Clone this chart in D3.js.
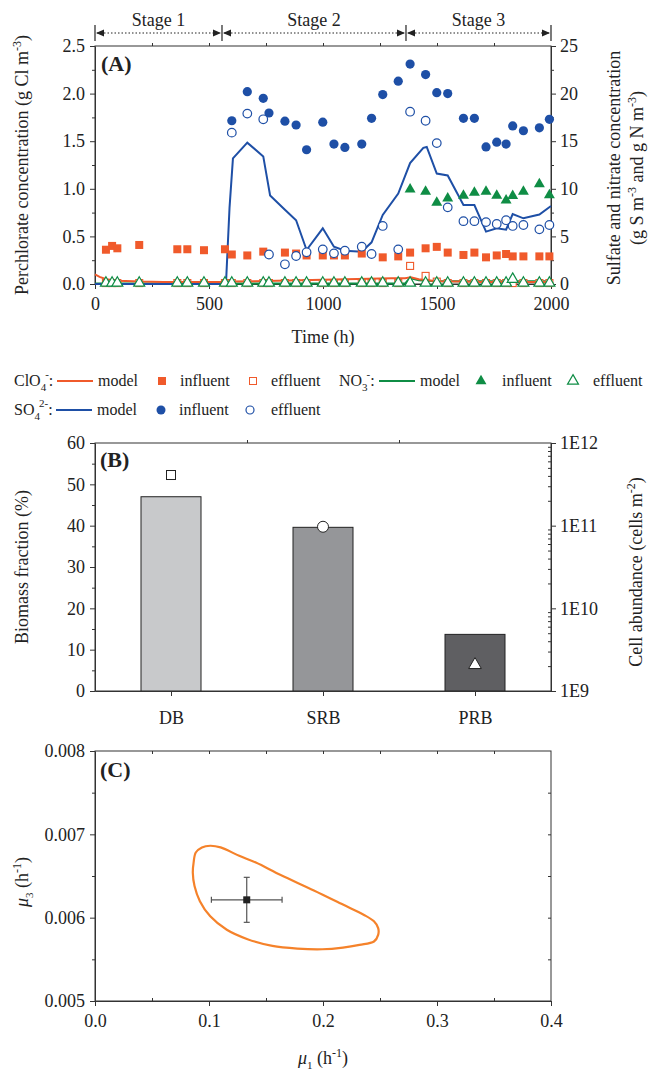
<!DOCTYPE html>
<html>
<head>
<meta charset="utf-8">
<script src="https://cdn.jsdelivr.net/npm/d3@7"></script>
<style>
  body { margin: 0; background: #fff; }
  svg, svg text { font-family: "Liberation Serif", "DejaVu Serif", "Noto Serif", "Times New Roman", serif; }
  .axis path, .axis line { stroke: #333; }
  .axis text { font-size: 18px; fill: #222; }
  .title { font-size: 18px; fill: #222; }
  .legend { font-size: 16px; fill: #222; }
</style>
</head>
<body>
<svg id="fig" width="649" height="1071"></svg>
<script>
// ---- panel A data (time in h) ----
const stageNames = ["Stage 1", "Stage 2", "Stage 3"];
const stageBounds = [0, 557, 1364, 2000];

const clo4InfT = [48, 75, 98, 194, 361, 405, 478, 570, 600, 668, 738, 833, 882, 928, 999, 1048, 1096, 1170, 1262, 1330, 1382, 1450, 1499, 1547, 1616, 1664, 1715, 1762, 1803, 1832, 1879, 1949, 1993];
const clo4Inf = [0.36, 0.40, 0.375, 0.41, 0.365, 0.365, 0.355, 0.365, 0.31, 0.30, 0.34, 0.33, 0.32, 0.30, 0.30, 0.30, 0.30, 0.32, 0.28, 0.29, 0.33, 0.375, 0.39, 0.33, 0.305, 0.33, 0.28, 0.30, 0.315, 0.29, 0.29, 0.29, 0.29];

const effT = [48, 75, 98, 194, 361, 405, 478, 570, 600, 668, 738, 763, 833, 882, 928, 999, 1048, 1096, 1170, 1213, 1262, 1330, 1382, 1450, 1499, 1547, 1616, 1664, 1715, 1762, 1803, 1832, 1879, 1949, 1993];
const clo4Eff = [0.01, 0.01, 0.01, 0.01, 0.01, 0.01, 0.01, 0.01, 0.01, 0.01, 0.01, 0.01, 0.01, 0.01, 0.01, 0.01, 0.01, 0.01, 0.01, 0.01, 0.01, 0.01, 0.19, 0.085, 0.025, 0.01, 0.01, 0.01, 0.01, 0.01, 0.01, 0.01, 0.01, 0.01, 0.01];
const no3Eff = [0.1, 0.1, 0.1, 0.1, 0.1, 0.1, 0.1, 0.1, 0.1, 0.1, 0.1, 0.1, 0.1, 0.1, 0.1, 0.1, 0.1, 0.1, 0.1, 0.1, 0.1, 0.1, 0.1, 0.1, 0.1, 0.1, 0.1, 0.1, 0.1, 0.1, 0.1, 0.5, 0.1, 0.1, 0.1];

const clo4ModelT = [0, 20, 50, 100, 200, 300, 400, 500, 560, 600, 700, 800, 900, 1000, 1100, 1200, 1300, 1360, 1385, 1420, 1500, 1600, 1700, 1800, 1900, 2000];
const clo4Model = [0.10, 0.075, 0.05, 0.035, 0.025, 0.022, 0.02, 0.02, 0.02, 0.025, 0.03, 0.035, 0.04, 0.045, 0.05, 0.055, 0.06, 0.06, 0.07, 0.05, 0.03, 0.025, 0.022, 0.02, 0.02, 0.02];

const so4T = [600, 668, 738, 763, 833, 882, 928, 999, 1048, 1096, 1170, 1213, 1262, 1330, 1382, 1450, 1499, 1547, 1616, 1664, 1715, 1762, 1803, 1832, 1879, 1949, 1993];
const so4Inf = [17.15, 20.2, 19.5, 17.96, 17.1, 16.7, 14.1, 17.0, 14.7, 14.35, 14.7, 17.4, 19.9, 21.3, 23.1, 22.0, 20.1, 20.0, 17.4, 17.4, 14.4, 14.9, 14.7, 16.6, 16.1, 16.4, 17.3];
const so4Eff = [15.9, 17.9, 17.3, 3.1, 2.07, 2.94, 3.33, 3.64, 3.22, 3.5, 3.92, 3.15, 6.1, 3.64, 18.1, 17.15, 14.8, 8.05, 6.6, 6.6, 6.5, 6.3, 6.7, 6.1, 6.2, 5.74, 6.2];

const so4ModelT = [0, 560, 575, 590, 605, 668, 738, 768, 833, 882, 928, 999, 1048, 1096, 1170, 1213, 1262, 1330, 1382, 1440, 1455, 1499, 1547, 1616, 1664, 1715, 1762, 1803, 1832, 1879, 1949, 2000];
const so4Model = [0, 0, 0.3, 8, 13.2, 14.85, 13.4, 9.3, 7.8, 6.7, 3.57, 5.85, 3.92, 3.5, 3.4, 4.38, 7.25, 9.5, 12.7, 14.3, 14.4, 11.6, 11.4, 8.3, 8.3, 5.5, 5.85, 5.7, 7.35, 6.9, 7.3, 8.2];

const no3InfT = [1382, 1450, 1499, 1547, 1616, 1664, 1715, 1762, 1803, 1832, 1879, 1949, 1993];
const no3Inf = [9.95, 9.7, 8.55, 9.0, 9.28, 9.6, 9.7, 9.28, 8.8, 9.25, 9.7, 10.5, 9.35];

const no3ModelT = [0, 1360, 1372, 1385, 1420, 1500, 1600, 1800, 2000];
const no3Model = [0.05, 0.05, 0.4, 0.6, 0.4, 0.3, 0.28, 0.28, 0.3];

// ---- panel B data ----
const groups = ["DB", "SRB", "PRB"];
const biomassPct = [47.0, 39.6, 13.7];
const cellAbundance = [4.1e11, 9.7e10, 2.07e9];
const barColors = ["#c8c9cb", "#959699", "#5f5f62"];

// ---- panel C data ----
const mu1Contour = [0.0865, 0.0884, 0.0938, 0.1011, 0.1102, 0.1265, 0.1411, 0.1629, 0.192, 0.2175, 0.2356, 0.2447, 0.2484, 0.2484, 0.2447, 0.232, 0.2175, 0.1993, 0.1775, 0.1556, 0.1338, 0.1156, 0.1011, 0.092, 0.0873, 0.0858];
const mu3Contour = [0.006661, 0.006782, 0.006843, 0.006863, 0.006843, 0.006742, 0.006661, 0.006512, 0.006327, 0.006157, 0.006036, 0.005956, 0.005875, 0.005794, 0.005714, 0.005673, 0.005641, 0.005621, 0.005629, 0.005661, 0.005742, 0.005855, 0.006016, 0.006198, 0.006379, 0.00654];
const mu1Est = 0.1331, mu1Err = 0.031;
const mu3Est = 0.006214, mu3Err = 0.00027;

const red = "#f05a2b", blue = "#1e4fa6", green = "#0f8d45", orange = "#f5822a";
const serif = '"Liberation Serif", "DejaVu Serif", "Noto Serif", "Times New Roman", serif';

const svg = d3.select("#fig").attr("font-family", serif);
const zip = (ts, vs) => ts.map((t, i) => [t, vs[i]]);

function drawAxis(axis, tx, ty, minor) {
  const g = svg.append("g").attr("class", "axis").attr("transform", `translate(${tx},${ty})`).call(axis);
  g.attr("font-family", serif).attr("font-size", 18);
  if (minor) g.select(".domain").remove();
  return g;
}

function frame(x0, x1, y0, y1) {
  svg.append("rect").attr("x", x0).attr("y", y0).attr("width", x1 - x0).attr("height", y1 - y0)
    .attr("fill", "none").attr("stroke", "#333");
}

// ================= Panel A =================
const xA = d3.scaleLinear().domain([0, 2000]).range([95, 551]);
const yA = d3.scaleLinear().domain([0, 2.5]).range([284, 46]);
const yA2 = d3.scaleLinear().domain([0, 25]).range([284, 46]);

frame(95, 551, 46, 284);
drawAxis(d3.axisLeft(yA).tickValues([0, 0.5, 1, 1.5, 2, 2.5]).tickFormat(d3.format(".1f")).tickSize(5).tickPadding(5).tickSizeOuter(0), 95, 0);
drawAxis(d3.axisLeft(yA).tickValues([0.25, 0.75, 1.25, 1.75, 2.25]).tickFormat("").tickSize(3), 95, 0, true);
drawAxis(d3.axisRight(yA2).tickValues([0, 5, 10, 15, 20, 25]).tickFormat(d3.format("d")).tickSize(5).tickPadding(4).tickSizeOuter(0), 551, 0);
drawAxis(d3.axisRight(yA2).tickValues([2.5, 7.5, 12.5, 17.5, 22.5]).tickFormat("").tickSize(3), 551, 0, true);
drawAxis(d3.axisBottom(xA).tickValues([0, 500, 1000, 1500, 2000]).tickFormat(d3.format("d")).tickSize(5).tickPadding(8).tickSizeOuter(0), 0, 284);
drawAxis(d3.axisBottom(xA).tickValues([250, 750, 1250, 1750]).tickFormat("").tickSize(3), 0, 284, true);
drawAxis(d3.axisTop(xA).tickValues([250, 500, 750, 1000, 1250, 1500, 1750]).tickFormat("").tickSize(3), 0, 46, true);

// stage brackets
const stages = svg.append("g");
stageBounds.forEach((b) => {
  stages.append("line").attr("x1", xA(b)).attr("x2", xA(b)).attr("y1", 25).attr("y2", 41)
    .attr("stroke", "#222").attr("stroke-width", 1.2);
});
stageNames.forEach((name, i) => {
  const a = xA(stageBounds[i]), b = xA(stageBounds[i + 1]);
  stages.append("line").attr("x1", a + 2).attr("x2", b - 2).attr("y1", 33).attr("y2", 33)
    .attr("stroke", "#222").attr("stroke-dasharray", "1.5,2");
  stages.append("path").attr("d", `M${a + 1},33L${a + 9},29.5L${a + 9},36.5Z`).attr("fill", "#222");
  stages.append("path").attr("d", `M${b - 1},33L${b - 9},29.5L${b - 9},36.5Z`).attr("fill", "#222");
  stages.append("text").attr("x", (a + b) / 2).attr("y", 26).attr("text-anchor", "middle")
    .attr("class", "title").text(name);
});

// model lines
const lineA = d3.line().x((d) => xA(d[0])).y((d) => yA(d[1]));
const lineA2 = d3.line().x((d) => xA(d[0])).y((d) => yA2(d[1]));
svg.append("path").datum(zip(no3ModelT, no3Model)).attr("d", lineA2).attr("fill", "none").attr("stroke", green).attr("stroke-width", 2);
svg.append("path").datum(zip(clo4ModelT, clo4Model)).attr("d", lineA).attr("fill", "none").attr("stroke", red).attr("stroke-width", 2);
svg.append("path").datum(zip(so4ModelT, so4Model)).attr("d", lineA2).attr("fill", "none").attr("stroke", blue).attr("stroke-width", 2);

// markers
const tri = d3.symbol(d3.symbolTriangle, 52);
const gA = svg.append("g");
gA.selectAll(".clo4inf").data(zip(clo4InfT, clo4Inf)).join("rect")
  .attr("x", (d) => xA(d[0]) - 4).attr("y", (d) => yA(d[1]) - 4).attr("width", 8).attr("height", 8).attr("fill", red);
gA.selectAll(".so4inf").data(zip(so4T, so4Inf)).join("circle")
  .attr("cx", (d) => xA(d[0])).attr("cy", (d) => yA2(d[1])).attr("r", 4.6).attr("fill", blue);
gA.selectAll(".no3inf").data(zip(no3InfT, no3Inf)).join("path")
  .attr("d", tri).attr("transform", (d) => `translate(${xA(d[0])},${yA2(d[1])})`).attr("fill", green);
gA.selectAll(".so4eff").data(zip(so4T, so4Eff)).join("circle")
  .attr("cx", (d) => xA(d[0])).attr("cy", (d) => yA2(d[1])).attr("r", 4.3)
  .attr("fill", "#fff").attr("stroke", blue).attr("stroke-width", 1.2);
gA.selectAll(".clo4eff").data(zip(effT, clo4Eff)).join("rect")
  .attr("x", (d) => xA(d[0]) - 3.5).attr("y", (d) => yA(d[1]) - 3.5).attr("width", 7).attr("height", 7)
  .attr("fill", "#fff").attr("stroke", red).attr("stroke-width", 1.1);
gA.selectAll(".no3eff").data(zip(effT, no3Eff)).join("path")
  .attr("d", tri).attr("transform", (d) => `translate(${xA(d[0])},${yA2(d[1])})`)
  .attr("fill", "#fff").attr("stroke", green).attr("stroke-width", 1.2);

svg.append("text").attr("x", 101).attr("y", 71).attr("font-size", 22).attr("font-weight", "bold").attr("fill", "#222").text("(A)");

// axis titles A
const tA = svg.append("text").attr("class", "title").attr("text-anchor", "middle")
  .attr("transform", "translate(28,165) rotate(-90)");
tA.append("tspan").text("Perchlorate concentration (g Cl m");
tA.append("tspan").attr("dy", -7).attr("font-size", 12).text("-3");
tA.append("tspan").attr("dy", 7).text(")");

svg.append("text").attr("class", "title").attr("text-anchor", "middle")
  .attr("transform", "translate(620,168) rotate(-90)").text("Sulfate and nitrate concentration");
const tA2 = svg.append("text").attr("class", "title").attr("text-anchor", "middle")
  .attr("transform", "translate(643,168) rotate(-90)");
tA2.append("tspan").text("(g S m");
tA2.append("tspan").attr("dy", -7).attr("font-size", 12).text("-3");
tA2.append("tspan").attr("dy", 7).text(" and g N m");
tA2.append("tspan").attr("dy", -7).attr("font-size", 12).text("-3");
tA2.append("tspan").attr("dy", 7).text(")");

svg.append("text").attr("class", "title").attr("x", 323).attr("y", 343).attr("text-anchor", "middle").text("Time (h)");

// ================= Legend =================
const leg = svg.append("g").attr("class", "legend");
function ionLabel(x, y, base, sub, sup) {
  const t = leg.append("text").attr("x", x).attr("y", y);
  t.append("tspan").text(base);
  t.append("tspan").attr("dy", 5).attr("font-size", 11).text(sub);
  t.append("tspan").attr("dx", -1).attr("dy", -13).attr("font-size", 11).text(sup);
  t.append("tspan").attr("dy", 8).text(":");
}
function legLine(x1, x2, y, c) {
  leg.append("line").attr("x1", x1).attr("x2", x2).attr("y1", y).attr("y2", y).attr("stroke", c).attr("stroke-width", 2.2);
}
function legText(x, y, s) { leg.append("text").attr("x", x).attr("y", y).text(s); }

ionLabel(14, 386, "ClO", "4", "-");
legLine(57, 93, 381, red); legText(98, 386, "model");
leg.append("rect").attr("x", 158).attr("y", 377).attr("width", 8).attr("height", 8).attr("fill", red);
legText(180, 386, "influent");
leg.append("rect").attr("x", 249.5).attr("y", 377.5).attr("width", 7).attr("height", 7).attr("fill", "#fff").attr("stroke", red);
legText(271, 386, "effluent");
ionLabel(339, 386, "NO", "3", "-");
legLine(379, 415, 381, green); legText(420, 386, "model");
leg.append("path").attr("d", tri).attr("transform", "translate(481,381)").attr("fill", green);
legText(502, 386, "influent");
leg.append("path").attr("d", tri).attr("transform", "translate(573,381)").attr("fill", "#fff").attr("stroke", green).attr("stroke-width", 1.2);
legText(593, 386, "effluent");

ionLabel(14, 415, "SO", "4", "2-");
legLine(56, 92, 410, blue); legText(97, 415, "model");
leg.append("circle").attr("cx", 161).attr("cy", 410).attr("r", 4.5).attr("fill", blue);
legText(179, 415, "influent");
leg.append("circle").attr("cx", 250).attr("cy", 410).attr("r", 4).attr("fill", "#fff").attr("stroke", blue).attr("stroke-width", 1.2);
legText(271, 415, "effluent");

// ================= Panel B =================
const xB = d3.scaleLinear().domain([0.5, 3.5]).range([95, 551]);
const yB = d3.scaleLinear().domain([0, 60]).range([691, 443]);
const yB2 = d3.scaleLog().domain([1e9, 1e12]).range([691, 443]);
const barW = 60;

frame(95, 551, 443, 691);
svg.append("g").selectAll("rect").data(groups).join("rect")
  .attr("x", (d, i) => xB(i + 1) - barW / 2).attr("y", (d, i) => yB(biomassPct[i]))
  .attr("width", barW).attr("height", (d, i) => yB(0) - yB(biomassPct[i]))
  .attr("fill", (d, i) => barColors[i]).attr("stroke", "#222").attr("stroke-width", 1);

drawAxis(d3.axisLeft(yB).tickValues([0, 10, 20, 30, 40, 50, 60]).tickSize(5).tickPadding(5).tickSizeOuter(0), 95, 0);
drawAxis(d3.axisLeft(yB).tickValues([5, 15, 25, 35, 45, 55]).tickFormat("").tickSize(3), 95, 0, true);
drawAxis(d3.axisBottom(xB).tickValues([1, 2, 3]).tickFormat((d) => groups[d - 1]).tickSize(5).tickPadding(15).tickSizeOuter(0), 0, 691);
drawAxis(d3.axisBottom(xB).tickValues([1.5, 2.5]).tickFormat("").tickSize(-3), 0, 443, true);
drawAxis(d3.axisRight(yB2).tickValues([1e9, 1e10, 1e11, 1e12]).tickFormat((d) => "1E" + Math.round(Math.log10(d))).tickSize(5).tickPadding(4).tickSizeOuter(0), 551, 0);
const minorLog = [];
[1e9, 1e10, 1e11].forEach((p) => [2, 3, 4, 5, 6, 7, 8, 9].forEach((m) => minorLog.push(p * m)));
drawAxis(d3.axisRight(yB2).tickValues(minorLog).tickFormat("").tickSize(-3), 551, 0, true);

// cell abundance markers
const mB = svg.append("g");
mB.append("rect").attr("x", xB(1) - 4.5).attr("y", yB2(cellAbundance[0]) - 4.5).attr("width", 9).attr("height", 9)
  .attr("fill", "#fff").attr("stroke", "#222");
mB.append("circle").attr("cx", xB(2)).attr("cy", yB2(cellAbundance[1])).attr("r", 5.5)
  .attr("fill", "#fff").attr("stroke", "#222");
mB.append("path").attr("d", d3.symbol(d3.symbolTriangle, 70)).attr("transform", `translate(${xB(3)},${yB2(cellAbundance[2])})`)
  .attr("fill", "#fff").attr("stroke", "#222");

svg.append("text").attr("x", 100).attr("y", 467).attr("font-size", 22).attr("font-weight", "bold").attr("fill", "#222").text("(B)");
svg.append("text").attr("class", "title").attr("text-anchor", "middle")
  .attr("transform", "translate(28,567) rotate(-90)").text("Biomass fraction (%)");
const tB2 = svg.append("text").attr("class", "title").attr("text-anchor", "middle")
  .attr("transform", "translate(642,572) rotate(-90)");
tB2.append("tspan").text("Cell abundance (cells m");
tB2.append("tspan").attr("dy", -7).attr("font-size", 12).text("-2");
tB2.append("tspan").attr("dy", 7).text(")");

// ================= Panel C =================
const xC = d3.scaleLinear().domain([0, 0.4]).range([95, 551]);
const yC = d3.scaleLinear().domain([0.005, 0.008]).range([1001, 751]);

frame(95, 551, 751, 1001);
drawAxis(d3.axisLeft(yC).tickValues([0.005, 0.006, 0.007, 0.008]).tickFormat(d3.format(".3f")).tickSize(5).tickPadding(5).tickSizeOuter(0), 95, 0);
drawAxis(d3.axisLeft(yC).tickValues([0.0055, 0.0065, 0.0075]).tickFormat("").tickSize(3), 95, 0, true);
drawAxis(d3.axisBottom(xC).tickValues([0, 0.1, 0.2, 0.3, 0.4]).tickFormat(d3.format(".1f")).tickSize(5).tickPadding(8).tickSizeOuter(0), 0, 1001);
drawAxis(d3.axisBottom(xC).tickValues([0.05, 0.15, 0.25, 0.35]).tickFormat("").tickSize(-3), 0, 1001, true);
drawAxis(d3.axisRight(yC).tickValues([0.0055, 0.006, 0.0065, 0.007, 0.0075]).tickFormat("").tickSize(-3), 551, 0, true);
drawAxis(d3.axisTop(xC).tickValues([0.05, 0.1, 0.15, 0.2, 0.25, 0.3, 0.35]).tickFormat("").tickSize(-3), 0, 751, true);

svg.append("path").datum(zip(mu1Contour, mu3Contour))
  .attr("d", d3.line().x((d) => xC(d[0])).y((d) => yC(d[1])).curve(d3.curveCatmullRomClosed))
  .attr("fill", "none").attr("stroke", orange).attr("stroke-width", 2.2);

const eb = svg.append("g").attr("stroke", "#555").attr("stroke-width", 1.2);
eb.append("line").attr("x1", xC(mu1Est - mu1Err)).attr("x2", xC(mu1Est + mu1Err)).attr("y1", yC(mu3Est)).attr("y2", yC(mu3Est));
eb.append("line").attr("x1", xC(mu1Est)).attr("x2", xC(mu1Est)).attr("y1", yC(mu3Est - mu3Err)).attr("y2", yC(mu3Est + mu3Err));
[mu1Est - mu1Err, mu1Est + mu1Err].forEach((v) => eb.append("line").attr("x1", xC(v)).attr("x2", xC(v)).attr("y1", yC(mu3Est) - 3).attr("y2", yC(mu3Est) + 3));
[mu3Est - mu3Err, mu3Est + mu3Err].forEach((v) => eb.append("line").attr("x1", xC(mu1Est) - 3).attr("x2", xC(mu1Est) + 3).attr("y1", yC(v)).attr("y2", yC(v)));
svg.append("rect").attr("x", xC(mu1Est) - 3.5).attr("y", yC(mu3Est) - 3.5).attr("width", 7).attr("height", 7).attr("fill", "#222");

svg.append("text").attr("x", 100).attr("y", 777).attr("font-size", 22).attr("font-weight", "bold").attr("fill", "#222").text("(C)");

const tC = svg.append("text").attr("class", "title").attr("text-anchor", "middle")
  .attr("transform", "translate(28,882) rotate(-90)");
tC.append("tspan").attr("font-style", "italic").text("μ");
tC.append("tspan").attr("dy", 5).attr("font-size", 11).text("3");
tC.append("tspan").attr("dy", -5).text(" (h");
tC.append("tspan").attr("dy", -7).attr("font-size", 12).text("-1");
tC.append("tspan").attr("dy", 7).text(")");

const tC2 = svg.append("text").attr("class", "title").attr("text-anchor", "middle").attr("x", 323).attr("y", 1064);
tC2.append("tspan").attr("font-style", "italic").text("μ");
tC2.append("tspan").attr("dy", 5).attr("font-size", 11).text("1");
tC2.append("tspan").attr("dy", -5).text(" (h");
tC2.append("tspan").attr("dy", -7).attr("font-size", 12).text("-1");
tC2.append("tspan").attr("dy", 7).text(")");
</script>
</body>
</html>
